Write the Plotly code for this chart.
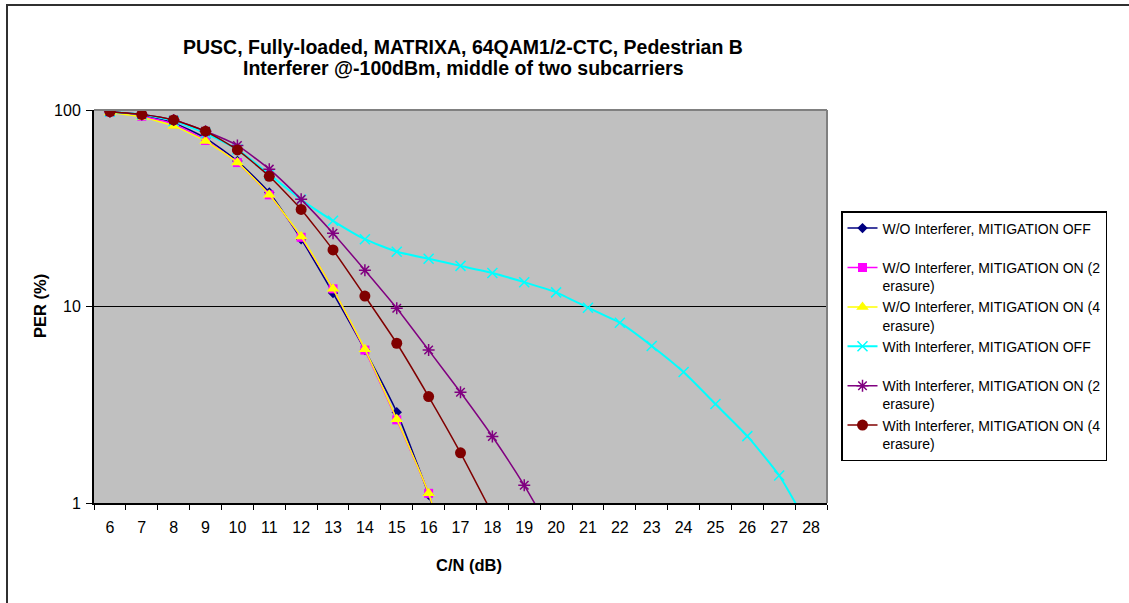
import plotly.graph_objects as go

cn_db = [str(v) for v in range(6, 29)]

per_wo_off = [98, 94, 86, 72, 55, 38, 22, 11.7, 6.0, 2.9, 1.1, 0.3]
per_wo_on2 = [98, 93, 85, 70, 54, 37, 22.5, 12.3, 6.0, 2.65, 1.12, 0.3]
per_wo_on4 = [97, 92, 83, 69.5, 54, 37, 22.7, 12.3, 6.06, 2.67, 1.12, 0.3]
per_w_off = [98, 95, 88, 76, 63, 47, 35, 27.3, 22.0, 19.0, 17.5, 16.1, 14.8, 13.3,
             11.8, 9.86, 8.27, 6.3, 4.64, 3.19, 2.19, 1.38, 0.72]
per_w_on2 = [98, 95, 89, 78, 66, 50, 35.1, 23.6, 15.3, 9.8, 6.0, 3.66, 2.18, 1.23, 0.64]
per_w_on4 = [98, 95, 89, 78, 62.6, 46, 31.2, 19.4, 11.3, 6.5, 3.48, 1.80, 0.88]

series_names = [
    "W/O Interferer, MITIGATION OFF<br> ",
    "W/O Interferer, MITIGATION ON (2<br>erasure)",
    "W/O Interferer, MITIGATION ON (4<br>erasure)",
    "With Interferer, MITIGATION OFF<br> ",
    "With Interferer, MITIGATION ON (2<br>erasure)",
    "With Interferer, MITIGATION ON (4<br>erasure)",
]
series_vals = [per_wo_off, per_wo_on2, per_wo_on4, per_w_off, per_w_on2, per_w_on4]
colors = ["#000080", "#FF00FF", "#FFFF00", "#00FFFF", "#800080", "#800000"]
symbols = ["diamond", "square", "triangle-up", "x-thin", "asterisk", "circle"]
sizes = [8, 9, 11, 10, 10, 11]
lwidths = [1.5, 1.5, 1.5, 2, 1.5, 1.5]

title_lines = ["PUSC, Fully-loaded, MATRIXA, 64QAM1/2-CTC, Pedestrian B",
               "Interferer @-100dBm, middle of two subcarriers"]
x_title = "C/N (dB)"
y_title = "PER (%)"

# plot area in pixels
PL, PR, PT, PB = 94, 827, 110, 503
W, H = 1129, 603
PW, PH = PR - PL, PB - PT


def px_x(px):
    return (px - PL) / PW


def px_y(py):
    return (PB - py) / PH


fig = go.Figure()
for i, (name, vals) in enumerate(zip(series_names, series_vals)):
    mk = dict(symbol=symbols[i], size=sizes[i], color=colors[i])
    if symbols[i] in ("x-thin", "asterisk"):
        mk["line"] = dict(color=colors[i], width=1.5)
    else:
        mk["line"] = dict(width=0)
    fig.add_trace(go.Scatter(
        x=cn_db[:len(vals)], y=vals, name=name, mode="lines+markers",
        line=dict(color=colors[i], width=lwidths[i], shape="spline", smoothing=0.5),
        marker=mk, legendgroup=f"g{i}",
    ))

font_main = "Liberation Sans, Arial"

fig.update_layout(
    width=W, height=H,
    margin=dict(l=PL, r=W - PR, t=PT, b=H - PB),
    paper_bgcolor="white", plot_bgcolor="#C0C0C0",
    font=dict(family=font_main, color="black", size=16),
    xaxis=dict(
        type="category", categoryorder="array", categoryarray=cn_db,
        range=[-0.5, 22.5], tickson="boundaries", ticks="outside", ticklen=5,
        tickcolor="black", showline=True, linecolor="black", linewidth=2,
        showgrid=False, tickfont=dict(size=16), ticklabelstandoff=9,
    ),
    yaxis=dict(
        type="log", range=[0, 2], tickvals=[1, 10, 100], ticktext=["1", "10", "100"],
        ticks="outside", ticklen=6, tickcolor="black", showline=True,
        linecolor="black", linewidth=2, showgrid=True, gridcolor="black",
        gridwidth=1, zeroline=False, tickfont=dict(size=16), ticklabelstandoff=2,
    ),
    legend=dict(
        x=px_x(841), y=px_y(211), xanchor="left", yanchor="top",
        bgcolor="white", bordercolor="black", borderwidth=1.5,
        font=dict(size=14, family=font_main),
        valign="top", tracegroupgap=0, traceorder="grouped",
        itemwidth=30,
    ),
    showlegend=True,
)

# titles as annotations
fig.add_annotation(text=f"<b>{title_lines[0]}</b>", xref="paper", yref="paper",
                   x=px_x(463), y=px_y(47), xanchor="center", yanchor="middle",
                   showarrow=False, font=dict(size=19.5, family=font_main))
fig.add_annotation(text=f"<b>{title_lines[1]}</b>", xref="paper", yref="paper",
                   x=px_x(463), y=px_y(68), xanchor="center", yanchor="middle",
                   showarrow=False, font=dict(size=19.5, family=font_main))
fig.add_annotation(text=f"<b>{x_title}</b>", xref="paper", yref="paper",
                   x=px_x(469), y=px_y(565), xanchor="center", yanchor="middle",
                   showarrow=False, font=dict(size=16.5, family=font_main))
fig.add_annotation(text=f"<b>{y_title}</b>", xref="paper", yref="paper",
                   x=px_x(40), y=px_y(306), xanchor="center", yanchor="middle",
                   showarrow=False, textangle=-90, font=dict(size=16.5, family=font_main))

# plot-area top and right borders (gray)
fig.add_shape(type="line", xref="paper", yref="paper", x0=0, x1=1, y0=1, y1=1,
              line=dict(color="#808080", width=2))
fig.add_shape(type="line", xref="paper", yref="paper", x0=1, x1=1, y0=0, y1=1,
              line=dict(color="#808080", width=2))
# outer chart frame
fig.add_shape(type="rect", xref="paper", yref="paper",
              x0=px_x(7), x1=px_x(1140), y0=px_y(615), y1=px_y(5),
              line=dict(color="#303030", width=2), layer="below")

fig.write_html("out.html")
